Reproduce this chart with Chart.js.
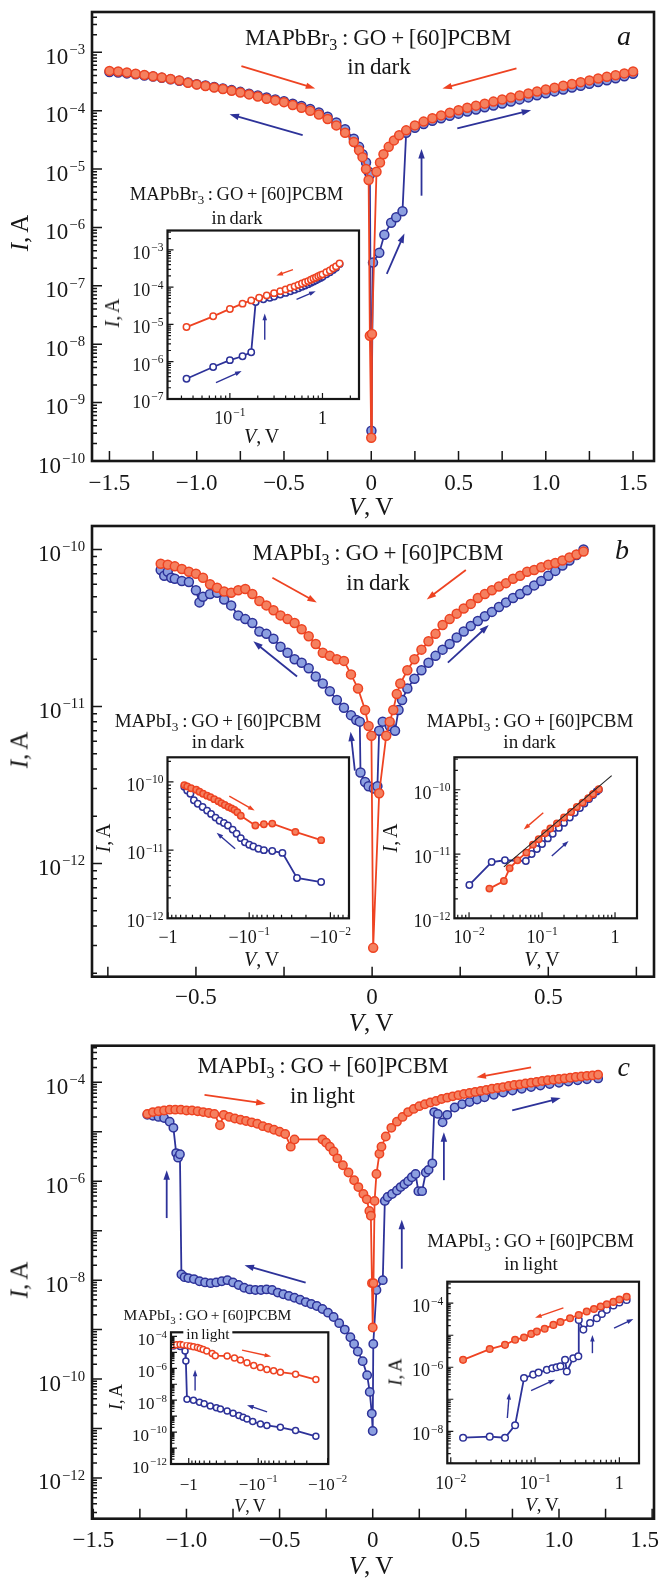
<!DOCTYPE html>
<html>
<head>
<meta charset="utf-8">
<script src="https://cdn.jsdelivr.net/npm/chart.js@4.4.1/dist/chart.umd.min.js"></script>
<style>
body { margin: 0; background: #fff; }
#page { position: relative; width: 662px; height: 1579px; overflow: hidden; background: #fff;
        font-family: "Liberation Serif", "Times New Roman", serif; color: #161616; }
.box { position: absolute; }
.t { position: absolute; transform: translate(-50%, -50%); white-space: nowrap; line-height: 1; word-spacing: -1px; }
.rot { transform: translate(-50%, -50%) rotate(-90deg); }
sub { font-size: 70%; vertical-align: -0.35em; line-height: 0; }
</style>
</head>
<body>
<div id="page"></div>
<script>
// ---------- panel a : MAPbBr3 in dark ----------
const aRedV = [-1.5,-1.45,-1.4,-1.35,-1.3,-1.25,-1.2,-1.15,-1.1,-1.05,-1.0,-0.95,-0.9,-0.85,-0.8,-0.75,-0.7,-0.65,-0.6,-0.55,-0.5,-0.45,-0.4,-0.35,-0.3,-0.25,-0.2,-0.15,-0.1,-0.07,-0.05,-0.03,-0.015,-0.008,0.0,0.004,0.03,0.05,0.07,0.1,0.13,0.16,0.2,0.25,0.3,0.35,0.4,0.45,0.5,0.55,0.6,0.65,0.7,0.75,0.8,0.85,0.9,0.95,1.0,1.05,1.1,1.15,1.2,1.25,1.3,1.35,1.4,1.45,1.5];
const aRedI = [4.8e-4,4.7e-4,4.5e-4,4.3e-4,4.1e-4,3.9e-4,3.7e-4,3.5e-4,3.3e-4,3.0e-4,2.8e-4,2.65e-4,2.5e-4,2.35e-4,2.2e-4,2.05e-4,1.9e-4,1.75e-4,1.6e-4,1.5e-4,1.4e-4,1.25e-4,1.12e-4,1.0e-4,8.6e-5,7.2e-5,5.6e-5,4.2e-5,2.9e-5,2.1e-5,1.6e-5,1.0e-5,6.5e-6,1.4e-8,2.5e-10,1.5e-8,9e-6,1.3e-5,1.8e-5,2.4e-5,3.1e-5,3.8e-5,4.6e-5,5.6e-5,6.5e-5,7.4e-5,8.3e-5,9.2e-5,1.02e-4,1.12e-4,1.22e-4,1.32e-4,1.43e-4,1.55e-4,1.68e-4,1.82e-4,1.97e-4,2.13e-4,2.3e-4,2.48e-4,2.67e-4,2.87e-4,3.08e-4,3.3e-4,3.55e-4,3.8e-4,4.05e-4,4.35e-4,4.7e-4];
const aBlueV = [-1.5,-1.45,-1.4,-1.35,-1.3,-1.25,-1.2,-1.15,-1.1,-1.05,-1.0,-0.95,-0.9,-0.85,-0.8,-0.75,-0.7,-0.65,-0.6,-0.55,-0.5,-0.45,-0.4,-0.35,-0.3,-0.25,-0.2,-0.15,-0.1,-0.07,-0.05,-0.03,-0.015,-0.008,0.001,0.01,0.046,0.075,0.114,0.143,0.179,0.2,0.25,0.3,0.35,0.4,0.45,0.5,0.55,0.6,0.65,0.7,0.75,0.8,0.85,0.9,0.95,1.0,1.05,1.1,1.15,1.2,1.25,1.3,1.35,1.4,1.45,1.5];
const aBlueI = [4.6e-4,4.5e-4,4.35e-4,4.2e-4,4.0e-4,3.85e-4,3.65e-4,3.45e-4,3.25e-4,3.05e-4,2.85e-4,2.7e-4,2.55e-4,2.4e-4,2.25e-4,2.1e-4,1.95e-4,1.82e-4,1.68e-4,1.56e-4,1.45e-4,1.32e-4,1.2e-4,1.07e-4,9.3e-5,7.9e-5,6.3e-5,4.8e-5,3.3e-5,2.4e-5,1.8e-5,1.3e-5,9e-6,8e-6,3.3e-10,2.5e-7,3.7e-7,7.5e-7,1.2e-6,1.5e-6,1.9e-6,4.2e-5,5.1e-5,5.9e-5,6.7e-5,7.4e-5,8.2e-5,8.9e-5,9.7e-5,1.05e-4,1.14e-4,1.23e-4,1.33e-4,1.44e-4,1.56e-4,1.69e-4,1.83e-4,1.98e-4,2.14e-4,2.31e-4,2.49e-4,2.68e-4,2.88e-4,3.1e-4,3.33e-4,3.6e-4,3.9e-4,4.3e-4];
const aXTicks = [-1.5,-1,-0.5,0,0.5,1,1.5];
const aXLabels = ['\u22121.5','\u22121.0','\u22120.5','0','0.5','1.0','1.5'];
const aYTicks = [1e-10,1e-9,1e-8,1e-7,1e-6,1e-5,1e-4,1e-3];
const aYLabels = ['10^\u221210','10^\u22129','10^\u22128','10^\u22127','10^\u22126','10^\u22125','10^\u22124','10^\u22123'];

// inset a (log-log)
const aInRedV = [0.034,0.066,0.1,0.137,0.17,0.207,0.25,0.3,0.35,0.4,0.45,0.5,0.55,0.6,0.65,0.7,0.75,0.8,0.85,0.9,0.95,1.0,1.1,1.2,1.3,1.4,1.53];
const aInRedI = [8.5e-6,1.65e-5,2.6e-5,3.6e-5,4.4e-5,5.2e-5,6.0e-5,6.9e-5,7.8e-5,8.7e-5,9.6e-5,1.05e-4,1.15e-4,1.25e-4,1.35e-4,1.45e-4,1.58e-4,1.7e-4,1.82e-4,1.95e-4,2.08e-4,2.2e-4,2.5e-4,2.8e-4,3.2e-4,3.6e-4,4.3e-4];
const aInBlueV = [0.034,0.066,0.1,0.137,0.17,0.19,0.23,0.27,0.3,0.35,0.4,0.45,0.5,0.55,0.6,0.65,0.7,0.75,0.8,0.85,0.9,0.95,1.0,1.1,1.2,1.3,1.4,1.53];
const aInBlueI = [3.5e-7,7.2e-7,1.1e-6,1.4e-6,1.8e-6,4.0e-5,4.7e-5,5.2e-5,5.6e-5,6.3e-5,7.0e-5,7.7e-5,8.5e-5,9.3e-5,1.02e-4,1.11e-4,1.2e-4,1.31e-4,1.42e-4,1.53e-4,1.65e-4,1.77e-4,1.9e-4,2.2e-4,2.5e-4,2.9e-4,3.3e-4,4.2e-4];
const aInXTicks = [0.1, 1];
const aInXLabels = ['10^\u22121','1'];
const aInYTicks = [1e-7,1e-6,1e-5,1e-4,1e-3];
const aInYLabels = ['10^\u22127','10^\u22126','10^\u22125','10^\u22124','10^\u22123'];

// ---------- panel b : MAPbI3 in dark ----------
const bRedV = [-0.6,-0.58,-0.56,-0.54,-0.52,-0.5,-0.48,-0.46,-0.44,-0.42,-0.4,-0.38,-0.36,-0.34,-0.32,-0.3,-0.28,-0.26,-0.24,-0.22,-0.2,-0.18,-0.16,-0.14,-0.12,-0.1,-0.08,-0.06,-0.04,-0.02,-0.01,-0.002,0.003,0.02,0.04,0.05,0.06,0.07,0.08,0.1,0.12,0.14,0.16,0.18,0.2,0.22,0.24,0.26,0.28,0.3,0.32,0.34,0.36,0.38,0.4,0.42,0.44,0.46,0.48,0.5,0.52,0.54,0.56,0.58,0.6];
const bRedI = [8.1e-11,8.0e-11,7.8e-11,7.5e-11,7.2e-11,7.0e-11,6.6e-11,6.0e-11,5.7e-11,5.4e-11,5.3e-11,5.5e-11,5.6e-11,5.2e-11,4.7e-11,4.4e-11,4.1e-11,3.8e-11,3.6e-11,3.4e-11,3.1e-11,2.8e-11,2.5e-11,2.2e-11,2.1e-11,2.0e-11,1.95e-11,1.6e-11,1.3e-11,9.5e-12,7.5e-12,6.5e-12,2.9e-13,2.8e-12,6.5e-12,8e-12,9.5e-12,1.2e-11,1.4e-11,1.7e-11,2.0e-11,2.3e-11,2.6e-11,2.9e-11,3.3e-11,3.6e-11,3.9e-11,4.2e-11,4.5e-11,4.9e-11,5.2e-11,5.5e-11,5.8e-11,6.1e-11,6.5e-11,6.8e-11,7.2e-11,7.4e-11,7.7e-11,8.0e-11,8.2e-11,8.5e-11,8.9e-11,9.3e-11,9.7e-11];
const bBlueV = [-0.6,-0.59,-0.58,-0.57,-0.56,-0.54,-0.52,-0.5,-0.49,-0.48,-0.46,-0.44,-0.42,-0.4,-0.38,-0.36,-0.34,-0.32,-0.3,-0.28,-0.26,-0.24,-0.22,-0.2,-0.18,-0.16,-0.14,-0.12,-0.1,-0.08,-0.06,-0.045,-0.035,-0.033,-0.02,-0.01,0.005,0.015,0.02,0.03,0.05,0.065,0.075,0.085,0.1,0.12,0.14,0.16,0.18,0.2,0.22,0.24,0.26,0.28,0.3,0.32,0.34,0.36,0.38,0.4,0.42,0.44,0.46,0.48,0.5,0.52,0.54,0.56,0.58,0.6];
const bBlueI = [7.4e-11,6.8e-11,7.2e-11,6.6e-11,6.5e-11,6.3e-11,6.2e-11,5.5e-11,4.6e-11,5.0e-11,5.2e-11,5.3e-11,4.8e-11,4.4e-11,3.8e-11,3.6e-11,3.4e-11,3.0e-11,2.9e-11,2.7e-11,2.4e-11,2.2e-11,2.0e-11,1.9e-11,1.75e-11,1.55e-11,1.4e-11,1.25e-11,1.1e-11,9.8e-12,8.8e-12,8.2e-12,8.0e-12,3.8e-12,3.3e-12,3.1e-12,3.0e-12,3.1e-12,7.0e-12,8.0e-12,7.5e-12,7.0e-12,9.5e-12,1.1e-11,1.3e-11,1.5e-11,1.7e-11,1.9e-11,2.1e-11,2.3e-11,2.5e-11,2.75e-11,3.0e-11,3.25e-11,3.5e-11,3.75e-11,4.0e-11,4.3e-11,4.6e-11,4.9e-11,5.2e-11,5.5e-11,5.9e-11,6.3e-11,6.8e-11,7.3e-11,7.9e-11,8.5e-11,9.2e-11,1.0e-10];
const bXTicks = [-0.5,0,0.5];
const bXLabels = ['\u22120.5','0','0.5'];
const bYTicks = [1e-12,1e-11,1e-10];
const bYLabels = ['10^\u221212','10^\u221211','10^\u221210'];

// inset b left (negative bias, log |V|)
const bLRedV = [-0.63,-0.58,-0.52,-0.45,-0.41,-0.37,-0.33,-0.3,-0.27,-0.24,-0.22,-0.2,-0.18,-0.165,-0.152,-0.14,-0.127,-0.084,-0.066,-0.052,-0.027,-0.013];
const bLRedI = [9.0e-11,8.6e-11,8.1e-11,7.7e-11,7.2e-11,6.7e-11,6.3e-11,6.0e-11,5.6e-11,5.2e-11,4.9e-11,4.6e-11,4.3e-11,4.1e-11,3.9e-11,3.6e-11,3.2e-11,2.3e-11,2.4e-11,2.45e-11,1.85e-11,1.4e-11];
const bLBlueV = [-0.63,-0.58,-0.53,-0.48,-0.43,-0.375,-0.33,-0.295,-0.26,-0.232,-0.205,-0.183,-0.16,-0.143,-0.127,-0.113,-0.1,-0.089,-0.077,-0.066,-0.052,-0.039,-0.0258,-0.013];
const bLBlueI = [8.5e-11,7.5e-11,6.7e-11,5.4e-11,4.8e-11,4.3e-11,3.8e-11,3.4e-11,3.0e-11,2.7e-11,2.5e-11,2.3e-11,2.0e-11,1.74e-11,1.5e-11,1.3e-11,1.2e-11,1.13e-11,1.05e-11,1.0e-11,9.7e-12,9.1e-12,3.9e-12,3.4e-12];
const bLXTicks = [1, 0.1, 0.01];
const bLXLabels = ['\u22121','\u221210^\u22121','\u221210^\u22122'];

// inset b right (positive bias)
const bRRedV = [0.019,0.03,0.036,0.046,0.061,0.075,0.09,0.11,0.13,0.16,0.2,0.25,0.3,0.36,0.43,0.5,0.6];
const bRRedI = [2.9e-12,3.8e-12,6.0e-12,8.0e-12,1.05e-11,1.4e-11,1.7e-11,2.1e-11,2.5e-11,3.0e-11,3.7e-11,4.5e-11,5.4e-11,6.3e-11,7.4e-11,8.6e-11,1.02e-10];
const bRBlueV = [0.0101,0.0204,0.031,0.06,0.072,0.085,0.1,0.12,0.14,0.17,0.2,0.24,0.28,0.33,0.38,0.44,0.5,0.56,0.6];
const bRBlueI = [3.3e-12,7.5e-12,8.0e-12,7.8e-12,1.0e-11,1.2e-11,1.43e-11,1.75e-11,2.06e-11,2.55e-11,3.05e-11,3.7e-11,4.4e-11,5.2e-11,6.1e-11,7.2e-11,8.3e-11,9.4e-11,1.0e-10];
const bRFitV = [0.03, 0.9];
const bRFitI = [6.3e-12, 1.66e-10];
const bRXTicks = [0.01, 0.1, 1];
const bRXLabels = ['10^\u22122','10^\u22121','1'];

// ---------- panel c : MAPbI3 in light ----------
const cRedV = [-1.21,-1.18,-1.15,-1.12,-1.09,-1.06,-1.03,-1.0,-0.97,-0.94,-0.91,-0.88,-0.85,-0.82,-0.8,-0.77,-0.74,-0.71,-0.68,-0.65,-0.62,-0.59,-0.56,-0.53,-0.5,-0.47,-0.44,-0.42,-0.27,-0.25,-0.23,-0.21,-0.19,-0.16,-0.13,-0.1,-0.077,-0.05,-0.032,-0.018,-0.01,-0.004,0.0,0.004,0.01,0.02,0.036,0.047,0.07,0.1,0.13,0.16,0.19,0.22,0.25,0.28,0.31,0.34,0.37,0.4,0.43,0.46,0.49,0.52,0.55,0.58,0.61,0.64,0.67,0.7,0.73,0.76,0.79,0.82,0.85,0.88,0.91,0.94,0.97,1.0,1.03,1.06,1.09,1.12,1.15,1.18,1.21];
const cRedI = [2.3e-5,2.5e-5,2.6e-5,2.7e-5,2.8e-5,2.8e-5,2.8e-5,2.7e-5,2.7e-5,2.6e-5,2.5e-5,2.4e-5,2.3e-5,1.35e-5,2.2e-5,2.0e-5,1.85e-5,1.75e-5,1.65e-5,1.55e-5,1.45e-5,1.3e-5,1.2e-5,1.1e-5,1.0e-5,9e-6,5e-6,7e-6,7e-6,6e-6,5e-6,4e-6,2.9e-6,2.1e-6,1.5e-6,1.05e-6,7.6e-7,5.5e-7,4.3e-7,2.5e-7,2e-7,8.7e-9,1.1e-9,8.7e-9,4e-7,1.4e-6,3.6e-6,5e-6,8e-6,1.2e-5,1.6e-5,2e-5,2.5e-5,2.9e-5,3.3e-5,3.6e-5,3.9e-5,4.2e-5,4.6e-5,4.9e-5,5.2e-5,5.5e-5,5.8e-5,6.1e-5,6.4e-5,6.7e-5,7.0e-5,7.4e-5,7.7e-5,8.0e-5,8.4e-5,8.8e-5,9.1e-5,9.5e-5,9.8e-5,1.02e-4,1.06e-4,1.1e-4,1.13e-4,1.17e-4,1.2e-4,1.24e-4,1.28e-4,1.31e-4,1.35e-4,1.38e-4,1.42e-4];
const cBlueV = [-1.21,-1.18,-1.15,-1.12,-1.09,-1.07,-1.055,-1.045,-1.035,-1.027,-1.01,-0.99,-0.96,-0.93,-0.9,-0.87,-0.84,-0.81,-0.78,-0.75,-0.72,-0.69,-0.66,-0.63,-0.6,-0.57,-0.54,-0.51,-0.48,-0.45,-0.42,-0.39,-0.36,-0.33,-0.3,-0.27,-0.24,-0.21,-0.18,-0.15,-0.12,-0.1,-0.08,-0.054,-0.03,-0.016,-0.005,0.0,0.003,0.02,0.054,0.065,0.08,0.104,0.13,0.15,0.17,0.19,0.21,0.23,0.245,0.265,0.285,0.3,0.32,0.33,0.35,0.375,0.4,0.44,0.48,0.52,0.56,0.6,0.65,0.7,0.75,0.8,0.85,0.9,0.95,1.0,1.05,1.1,1.15,1.21];
const cBlueI = [2.2e-5,2.1e-5,2.0e-5,1.9e-5,1.6e-5,1.2e-5,3.7e-6,3.0e-6,3.5e-6,1.3e-8,1.15e-8,1.1e-8,1.05e-8,9.5e-9,9.0e-9,8.7e-9,9.0e-9,9.5e-9,1.0e-8,9.0e-9,8.0e-9,7.0e-9,6.5e-9,6.3e-9,6.3e-9,6.5e-9,6.3e-9,5.6e-9,5.2e-9,4.8e-9,4.4e-9,4.0e-9,3.6e-9,3.3e-9,3.0e-9,2.6e-9,2.2e-9,1.8e-9,1.35e-9,1.0e-9,7.0e-10,5.1e-10,3.6e-10,2.3e-10,1.2e-10,5.5e-11,2.0e-11,8.9e-12,5.1e-10,6.3e-9,1.0e-8,4.0e-7,4.8e-7,5.5e-7,6.5e-7,7.6e-7,8.7e-7,1.0e-6,1.2e-6,1.4e-6,6.3e-7,6.3e-7,1.5e-6,1.7e-6,2.3e-6,2.5e-5,2.3e-5,1.55e-5,2.2e-5,3.1e-5,3.6e-5,4.0e-5,4.5e-5,5.0e-5,5.6e-5,6.2e-5,6.8e-5,7.4e-5,8.0e-5,8.6e-5,9.2e-5,9.8e-5,1.04e-4,1.1e-4,1.15e-4,1.2e-4];
const cXTicks = [-1.5,-1,-0.5,0,0.5,1,1.5];
const cXLabels = ['\u22121.5','\u22121.0','\u22120.5','0','0.5','1.0','1.5'];
const cYTicks = [1e-12,1e-10,1e-8,1e-6,1e-4];
const cYLabels = ['10^\u221212','10^\u221210','10^\u22128','10^\u22126','10^\u22124'];

// inset c left (negative bias, log |V|)
const cLRedV = [-1.66,-1.5,-1.33,-1.2,-1.06,-0.95,-0.855,-0.75,-0.684,-0.62,-0.55,-0.46,-0.415,-0.28,-0.22,-0.18,-0.145,-0.116,-0.093,-0.075,-0.06,-0.048,-0.029,-0.0148];
const cLRedI = [2.8e-5,3.0e-5,3.1e-5,3.0e-5,2.8e-5,2.5e-5,2.2e-5,2.0e-5,1.75e-5,1.5e-5,1.2e-5,8.5e-6,6.2e-6,5.9e-6,4.4e-6,3.3e-6,2.2e-6,1.5e-6,1.1e-6,8.5e-7,7.0e-7,5.7e-7,4.3e-7,1.95e-7];
const cLBlueV = [-1.66,-1.33,-1.13,-1.1,-1.06,-0.855,-0.7,-0.6,-0.49,-0.4,-0.35,-0.28,-0.23,-0.19,-0.165,-0.145,-0.12,-0.093,-0.075,-0.048,-0.029,-0.0148];
const cLBlueI = [2.5e-5,2.3e-5,1.2e-5,2.9e-6,1.15e-8,1.0e-8,7.5e-9,6.0e-9,4.3e-9,3.3e-9,2.8e-9,2.1e-9,1.5e-9,1.1e-9,8.5e-10,6.6e-10,4.6e-10,3.2e-10,2.6e-10,2.0e-10,1.25e-10,5.4e-11];
const cLXTicks = [1, 0.1, 0.01];
const cLXLabels = ['\u22121','\u221210^\u22121','\u221210^\u22122'];
const cLYTicks = [1e-12,1e-10,1e-8,1e-6,1e-4];
const cLYLabels = ['10^\u221212','10^\u221210','10^\u22128','10^\u22126','10^\u22124'];

// inset c right (positive bias)
const cRRedV = [0.014,0.029,0.044,0.058,0.074,0.09,0.105,0.13,0.165,0.2,0.26,0.33,0.41,0.5,0.6,0.71,0.85,1.0,1.22];
const cRRedI = [1.7e-6,3.7e-6,5.0e-6,7.2e-6,8.5e-6,1.1e-5,1.3e-5,1.6e-5,2.1e-5,2.6e-5,3.4e-5,4.3e-5,5.5e-5,6.6e-5,7.9e-5,9.3e-5,1.1e-4,1.3e-4,1.6e-4];
const cRBlueV = [0.014,0.029,0.044,0.058,0.074,0.095,0.11,0.138,0.16,0.18,0.2,0.227,0.238,0.284,0.326,0.33,0.374,0.45,0.54,0.62,0.71,0.85,1.0,1.22];
const cRBlueI = [6.3e-9,6.8e-9,6.3e-9,1.55e-8,4.6e-7,5.9e-7,6.8e-7,8.3e-7,9.3e-7,1.0e-6,1.07e-6,1.7e-6,7.4e-7,1.9e-6,2.2e-6,3.0e-5,1.5e-5,2.4e-5,3.4e-5,4.6e-5,6.2e-5,8.5e-5,1.05e-4,1.26e-4];
const cRXTicks = [0.01, 0.1, 1];
const cRXLabels = ['10^\u22122','10^\u22121','1'];
const cRYTicks = [1e-8,1e-6,1e-4];
const cRYLabels = ['10^\u22128','10^\u22126','10^\u22124'];

const SERIF = '"Liberation Serif", "Times New Roman", serif';
const INK = '#161616';
const RED = '#ee4322', RED_FILL = '#f5805f';
const BLUE = '#2d3299', BLUE_FILL = '#8c9fe0';

const page = document.getElementById('page');

//Puntos de una serie
function series(xs, ys, color, fill, r, abs) {
    return {
        data: xs.map((x, i) => ({ x: abs ? Math.abs(x) : x, y: ys[i] })),
        showLine: true,
        borderColor: color,
        borderWidth: 1.8,
        pointRadius: r,
        pointBorderWidth: 1.5,
        pointBorderColor: color,
        pointBackgroundColor: fill
    };
}

function fitLine(xs, ys) {
    return {
        data: xs.map((x, i) => ({ x: x, y: ys[i] })),
        showLine: true, borderColor: '#222', borderWidth: 1.1, pointRadius: 0
    };
}

//Marcas mayores y menores de un eje log
function logMarks(min, max) {
    const major = [], minor = [];
    for (let e = Math.floor(Math.log10(min)); e <= Math.ceil(Math.log10(max)); e++) {
        const d = Math.pow(10, e);
        if (d >= min && d <= max) major.push(d);
        for (let k = 2; k <= 9; k++) {
            const v = k * d;
            if (v >= min && v <= max) minor.push(v);
        }
    }
    return { major, minor };
}

function linMarks(min, max, step) {
    const major = [];
    for (let v = Math.ceil(min / step) * step; v <= max + 1e-9; v += step) major.push(+v.toFixed(4));
    return { major, minor: [] };
}

//Etiqueta tipo 10^-3 con exponente elevado; y = centro de las cifras
function drawLabel(ctx, text, x, y, fs, align, maxRight) {
    const parts = text.split('^');
    const base = parts[0], exp = parts[1] || '';
    const es = fs * 0.64;
    ctx.font = fs + 'px ' + SERIF;
    const bw = ctx.measureText(base).width;
    ctx.font = es + 'px ' + SERIF;
    const ew = exp ? ctx.measureText(exp).width + 1 : 0;
    const total = bw + ew;
    let left = align === 'right' ? x - total : x - total / 2;
    if (maxRight && left + total > maxRight) left = maxRight - total;
    const baseLine = y + fs * 0.33;
    ctx.textAlign = 'left';
    ctx.textBaseline = 'alphabetic';
    ctx.fillStyle = INK;
    ctx.font = fs + 'px ' + SERIF;
    ctx.fillText(base, left, baseLine);
    if (exp) {
        ctx.font = es + 'px ' + SERIF;
        ctx.fillText(exp, left + bw + 1, baseLine - fs * 0.42);
    }
}

function drawArrow(ctx, x1, y1, x2, y2, color, w, head) {
    const ang = Math.atan2(y2 - y1, x2 - x1);
    ctx.strokeStyle = color;
    ctx.fillStyle = color;
    ctx.lineWidth = w;
    ctx.beginPath();
    ctx.moveTo(x1, y1);
    ctx.lineTo(x2 - Math.cos(ang) * head * 0.7, y2 - Math.sin(ang) * head * 0.7);
    ctx.stroke();
    ctx.beginPath();
    ctx.moveTo(x2, y2);
    ctx.lineTo(x2 - head * Math.cos(ang - 0.33), y2 - head * Math.sin(ang - 0.33));
    ctx.lineTo(x2 - head * Math.cos(ang + 0.33), y2 - head * Math.sin(ang + 0.33));
    ctx.closePath();
    ctx.fill();
}

//Marco, marcas hacia dentro, etiquetas y flechas
function framePlugin(o, xm, ym) {
    return {
        id: 'frame',
        beforeDraw(chart) {
            if (!o.inset) return;
            const a = chart.chartArea, ctx = chart.ctx;
            ctx.save();
            ctx.fillStyle = '#fff';
            ctx.fillRect(a.left, a.top, a.right - a.left, a.bottom - a.top);
            ctx.restore();
        },
        afterDraw(chart) {
            const { ctx, chartArea: a } = chart;
            const x = chart.scales.x, y = chart.scales.y;
            const big = o.inset ? 6 : 10, small = o.inset ? 3.5 : 5;
            ctx.save();
            ctx.strokeStyle = INK;
            ctx.lineWidth = o.inset ? 1.2 : 1.5;
            ctx.beginPath();
            xm.major.forEach(v => { const p = x.getPixelForValue(v); ctx.moveTo(p, a.bottom); ctx.lineTo(p, a.bottom - big); });
            xm.minor.forEach(v => { const p = x.getPixelForValue(v); ctx.moveTo(p, a.bottom); ctx.lineTo(p, a.bottom - small); });
            ym.major.forEach(v => { const p = y.getPixelForValue(v); ctx.moveTo(a.left, p); ctx.lineTo(a.left + big, p); });
            ym.minor.forEach(v => { const p = y.getPixelForValue(v); ctx.moveTo(a.left, p); ctx.lineTo(a.left + small, p); });
            ctx.stroke();
            ctx.lineWidth = o.inset ? 2.2 : 2.6;
            ctx.strokeRect(a.left, a.top, a.right - a.left, a.bottom - a.top);

            // tick labels at the scale's own tick positions
            x.ticks.forEach((t, i) => drawLabel(ctx, o.xLabels[i], x.getPixelForTick(i), a.bottom + o.xOff, o.fs, 'center', chart.width - 3));
            y.ticks.forEach((t, i) => drawLabel(ctx, o.yLabels[i], a.left - o.yPad, y.getPixelForTick(i) + o.fs * 0.17, o.fs, 'right'));

            (o.arrows || []).forEach(ar => {
                const fx = v => x.getPixelForValue(o.absX ? Math.abs(v) : v);
                drawArrow(ctx, fx(ar[0]), y.getPixelForValue(ar[1]), fx(ar[2]), y.getPixelForValue(ar[3]),
                    ar[4] === 'r' ? RED : BLUE, o.inset ? 1.4 : 1.8, o.inset ? 7 : 10);
            });
            ctx.restore();
        }
    };
}

//Crear una gráfica en su caja
function makeChart(o) {
    const wrap = document.createElement('div');
    wrap.className = 'box';
    wrap.style.left = o.left + 'px';
    wrap.style.top = o.top + 'px';
    wrap.style.width = o.w + 'px';
    wrap.style.height = o.h + 'px';
    const cv = document.createElement('canvas');
    cv.width = o.w;
    cv.height = o.h;
    wrap.appendChild(cv);
    page.appendChild(wrap);

    const xm = o.xLog ? logMarks(o.xMin, o.xMax) : linMarks(o.xMin, o.xMax, 0.25);
    const ym = logMarks(o.yMin, o.yMax);

    new Chart(cv, {
        type: 'scatter',
        data: { datasets: o.sets },
        options: {
            responsive: false,
            animation: false,
            events: [],
            layout: { padding: { top: o.padTop, right: o.padRight, left: 0, bottom: 0 } },
            plugins: { legend: { display: false }, tooltip: { enabled: false } },
            scales: {
                x: {
                    type: o.xLog ? 'logarithmic' : 'linear',
                    min: o.xMin, max: o.xMax, reverse: !!o.xRev,
                    grid: { display: false, drawTicks: false },
                    border: { display: false },
                    afterBuildTicks: s => { s.ticks = o.xTicks.map(v => ({ value: v })); },
                    afterFit: s => { s.height = o.xH; s.paddingLeft = 0; s.paddingRight = 0; },
                    ticks: { display: false, autoSkip: false }
                },
                y: {
                    type: 'logarithmic',
                    min: o.yMin, max: o.yMax,
                    grid: { display: false, drawTicks: false },
                    border: { display: false },
                    afterBuildTicks: s => { s.ticks = o.yTicks.map(v => ({ value: v })); },
                    afterFit: s => { s.width = o.yW; s.paddingTop = 0; s.paddingBottom = 0; },
                    ticks: { display: false, autoSkip: false }
                }
            }
        },
        plugins: [framePlugin(o, xm, ym)]
    });
}

function addText(x, y, html, size, extra) {
    const d = document.createElement('div');
    d.className = 't' + (extra && extra.rot ? ' rot' : '');
    d.style.left = x + 'px';
    d.style.top = y + 'px';
    d.style.fontSize = size + 'px';
    if (extra && extra.bg) { d.style.background = '#fff'; d.style.padding = '0 3px'; }
    d.innerHTML = html;
    page.appendChild(d);
}

// ---------- main panels ----------
makeChart({
    left: 0, top: 0, w: 662, h: 520, padTop: 12, padRight: 8, yW: 92, xH: 59,
    xMin: -1.60, xMax: 1.62, yMin: 1e-10, yMax: 4.9e-3, fs: 23, xOff: 21, yPad: 7,
    xTicks: aXTicks, xLabels: aXLabels, yTicks: aYTicks, yLabels: aYLabels,
    sets: [series(aRedV, aRedI, RED, RED_FILL, 4.5), series(aBlueV, aBlueI, BLUE, BLUE_FILL, 4.5)],
    arrows: [[-0.744, 5.8e-4, -0.321, 2.4e-4, 'r'], [0.832, 5.3e-4, 0.408, 2.4e-4, 'r'],
             [-0.393, 3.8e-5, -0.812, 8.7e-5, 'b'], [0.493, 5e-5, 0.916, 1.02e-4, 'b'],
             [0.288, 3.5e-6, 0.288, 2.2e-5, 'b'], [0.089, 1.6e-7, 0.19, 7.9e-7, 'b']]
});

makeChart({
    left: 0, top: 520, w: 662, h: 520, padTop: 6, padRight: 8, yW: 92, xH: 63.3,
    xMin: -0.795, xMax: 0.80, yMin: 1.9e-13, yMax: 1.41e-10, fs: 23, xOff: 20, yPad: 7,
    xTicks: bXTicks, xLabels: bXLabels, yTicks: bYTicks, yLabels: bYLabels,
    sets: [series(bRedV, bRedI, RED, RED_FILL, 4.5), series(bBlueV, bBlueI, BLUE, BLUE_FILL, 4.5)],
    arrows: [[-0.283, 6.6e-11, -0.157, 4.6e-11, 'r'], [0.266, 7.4e-11, 0.155, 4.8e-11, 'r'],
             [-0.213, 1.55e-11, -0.337, 2.6e-11, 'b'], [0.215, 1.9e-11, 0.331, 3.3e-11, 'b'],
             [-0.049, 3.9e-12, -0.061, 6.9e-12, 'b']]
});

makeChart({
    left: 0, top: 1040, w: 662, h: 539, padTop: 2, padRight: 8, yW: 92, xH: 60.3,
    xMin: -1.507, xMax: 1.51, yMin: 1.5e-13, yMax: 5.5e-4, fs: 23, xOff: 21, yPad: 7,
    xTicks: cXTicks, xLabels: cXLabels, yTicks: cYTicks, yLabels: cYLabels,
    sets: [series(cRedV, cRedI, RED, RED_FILL, 4.2), series(cBlueV, cBlueI, BLUE, BLUE_FILL, 4.2)],
    arrows: [[-0.903, 5.6e-5, -0.575, 3.7e-5, 'r'], [0.85, 2e-4, 0.557, 1.26e-4, 'r'],
             [0.749, 2.7e-5, 1.009, 4.8e-5, 'b'], [-0.36, 8.9e-9, -0.688, 2e-8, 'b'],
             [-1.106, 1.8e-7, -1.106, 1.66e-6, 'b'], [0.156, 1.7e-8, 0.156, 1.66e-7, 'b'],
             [0.382, 1.05e-6, 0.382, 9.8e-6, 'b']]
});

// ---------- insets ----------
makeChart({
    inset: true, left: 100, top: 225, w: 275, h: 215, padTop: 5, padRight: 16, yW: 67.5, xH: 41,
    xLog: true, xMin: 0.0212, xMax: 2.48, yMin: 1e-7, yMax: 3.3e-3, fs: 18, xOff: 19, yPad: 4,
    xTicks: aInXTicks, xLabels: aInXLabels, yTicks: aInYTicks, yLabels: aInYLabels,
    sets: [series(aInRedV, aInRedI, RED, '#fff', 3.2), series(aInBlueV, aInBlueI, BLUE, '#fff', 3.2)],
    arrows: [[0.48, 2.95e-4, 0.318, 2.04e-4, 'r'], [0.525, 4.7e-5, 0.845, 7.8e-5, 'b'],
             [0.238, 3.9e-6, 0.238, 1.95e-5, 'b'], [0.0708, 2.75e-7, 0.134, 5.6e-7, 'b']]
});

makeChart({
    inset: true, absX: true, left: 100, top: 745, w: 275, h: 215, padTop: 12.3, padRight: 26, yW: 67.5, xH: 41.7,
    xLog: true, xRev: true, xMin: 0.0059, xMax: 1.015, yMin: 1e-12, yMax: 2.3e-10, fs: 18, xOff: 18.5, yPad: 4,
    xTicks: bLXTicks, xLabels: bLXLabels, yTicks: bYTicks, yLabels: bYLabels,
    sets: [series(bLRedV, bLRedI, RED, RED_FILL, 3.2, true), series(bLBlueV, bLBlueI, BLUE, '#fff', 3.2, true)],
    arrows: [[-0.176, 6.2e-11, -0.0857, 3.8e-11, 'r'], [-0.149, 1.05e-11, -0.252, 1.8e-11, 'b']]
});

makeChart({
    inset: true, left: 390, top: 745, w: 262, h: 215, padTop: 12.3, padRight: 15, yW: 64.4, xH: 41.7,
    xLog: true, xMin: 0.0063, xMax: 2.0, yMin: 1e-12, yMax: 3.2e-10, fs: 18, xOff: 18.5, yPad: 4,
    xTicks: bRXTicks, xLabels: bRXLabels, yTicks: bYTicks, yLabels: bYLabels,
    sets: [fitLine(bRFitV, bRFitI), series(bRRedV, bRRedI, RED, RED_FILL, 3.2), series(bRBlueV, bRBlueI, BLUE, '#fff', 3.2)],
    arrows: [[0.104, 4.4e-11, 0.056, 2.4e-11, 'r'], [0.136, 9.3e-12, 0.231, 1.6e-11, 'b']]
});

makeChart({
    inset: true, absX: true, left: 100, top: 1320, w: 260, h: 185, padTop: 12.3, padRight: 31.7, yW: 71, xH: 41,
    xLog: true, xRev: true, xMin: 0.0098, xMax: 1.8, yMin: 1e-12, yMax: 1.8e-4, fs: 17, xOff: 20, yPad: 4,
    xTicks: cLXTicks, xLabels: cLXLabels, yTicks: cLYTicks, yLabels: cLYLabels,
    sets: [series(cLRedV, cLRedI, RED, '#fff', 3, true), series(cLBlueV, cLBlueI, BLUE, '#fff', 3, true)],
    arrows: [[-0.171, 1.38e-5, -0.065, 5.4e-6, 'r'], [-0.81, 4.1e-8, -0.81, 8.1e-7, 'b'],
             [-0.0745, 1.86e-9, -0.145, 4.9e-9, 'b']]
});

makeChart({
    inset: true, left: 380, top: 1270, w: 270, h: 240, padTop: 11.7, padRight: 11, yW: 67.3, xH: 46.7,
    xLog: true, xMin: 0.0091, xMax: 1.71, yMin: 1.0e-9, yMax: 4.7e-4, fs: 18, xOff: 20, yPad: 4,
    xTicks: cRXTicks, xLabels: cRXLabels, yTicks: cRYTicks, yLabels: cRYLabels,
    sets: [series(cRRedV, cRRedI, RED, RED_FILL, 3.3), series(cRBlueV, cRBlueI, BLUE, '#fff', 3.3)],
    arrows: [[0.217, 7.2e-5, 0.1, 3.5e-5, 'r'], [0.0897, 1.86e-7, 0.1726, 4.1e-7, 'b'],
             [0.0469, 2.6e-8, 0.0495, 1.58e-7, 'b'], [0.479, 2.75e-6, 0.479, 1.02e-5, 'b'],
             [0.865, 1.66e-5, 1.466, 3.2e-5, 'b']]
});

// ---------- texts ----------
const brTitle = 'MAPbBr<sub>3</sub> : GO + [60]PCBM';
const iTitle = 'MAPbI<sub>3</sub> : GO + [60]PCBM';
const yTitle = '<i>I</i>, A';
const xTitle = '<i>V</i>, V';

addText(378, 37, brTitle, 23);
addText(379, 66, 'in dark', 23);
addText(624, 36, '<i>a</i>', 28);
addText(19, 233, yTitle, 25, { rot: true });
addText(371, 506, xTitle, 25);
addText(236.5, 194, brTitle, 18.5);
addText(237, 218, 'in dark', 18.5);
addText(112, 313, yTitle, 20, { rot: true });
addText(261.6, 436, xTitle, 20);

addText(378, 552, iTitle, 23);
addText(378, 582, 'in dark', 23);
addText(622, 550, '<i>b</i>', 28);
addText(19, 750, yTitle, 25, { rot: true });
addText(371, 1022, xTitle, 25);
addText(218, 720, iTitle, 19);
addText(218, 741, 'in dark', 19);
addText(103, 838, yTitle, 20, { rot: true });
addText(261.6, 959, xTitle, 20);
addText(530, 720, iTitle, 19);
addText(529.5, 741, 'in dark', 19);
addText(390, 838, yTitle, 20, { rot: true });
addText(542, 959, xTitle, 20);

addText(323, 1065, iTitle, 23);
addText(322.5, 1095, 'in light', 23);
addText(623.6, 1067, '<i>c</i>', 28);
addText(19, 1280, yTitle, 25, { rot: true });
addText(371, 1565, xTitle, 25);
addText(207.5, 1315, iTitle, 15.5);
addText(208, 1334, 'in light', 15.5, { bg: true });
addText(116, 1397, yTitle, 18, { rot: true });
addText(250, 1506, xTitle, 18);
addText(530.6, 1240, iTitle, 19);
addText(531, 1263, 'in light', 19);
addText(394.5, 1372, yTitle, 19, { rot: true });
addText(542, 1504, xTitle, 19);
</script>
</body>
</html>
